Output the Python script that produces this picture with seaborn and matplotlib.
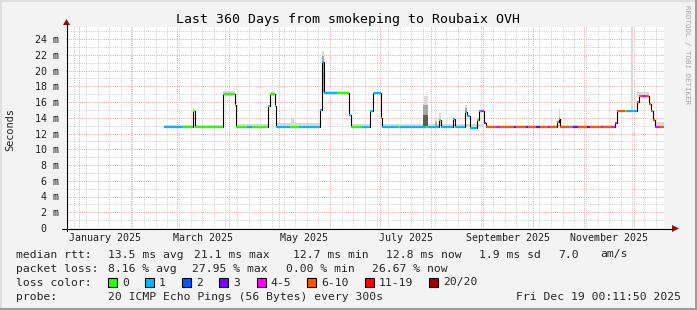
import matplotlib
matplotlib.use("Agg")
import matplotlib.pyplot as plt
import matplotlib.dates as mdates
from matplotlib.patches import Rectangle, Polygon
import numpy as np
import pandas as pd
import seaborn as sns

# ------------------------------------------------------------------ data
title = "Last 360 Days from smokeping to Roubaix OVH"
graph_end = "2025-12-19 00:11:50"
graph_days = 360

# median rtt steps (ms) and loss class per step
seg_edges = [
    "2025-02-21 00:00", "2025-03-04 12:00", "2025-03-10 06:00", "2025-03-11 09:00",
    "2025-03-28 12:00", "2025-04-04 22:00", "2025-04-05 12:00", "2025-04-12 00:00",
    "2025-04-15 00:00", "2025-04-24 12:00", "2025-04-25 22:00", "2025-04-28 22:00",
    "2025-04-29 10:00", "2025-05-08 00:00", "2025-05-13 00:00", "2025-05-26 00:00",
    "2025-05-27 04:00", "2025-05-28 10:00", "2025-06-05 00:00", "2025-06-12 14:00",
    "2025-06-13 12:00", "2025-06-20 00:00", "2025-06-25 02:00", "2025-06-26 14:00",
    "2025-07-01 10:00", "2025-07-02 12:00", "2025-07-12 00:00", "2025-07-13 00:00",
    "2025-07-29 00:00", "2025-07-30 00:00", "2025-08-05 14:00", "2025-08-06 19:00",
    "2025-08-13 19:00", "2025-08-15 05:00", "2025-08-21 07:00", "2025-08-22 12:00",
    "2025-08-24 07:00", "2025-08-28 12:00", "2025-08-29 12:00", "2025-08-31 00:00",
    "2025-09-01 17:00", "2025-09-02 22:00", "2025-09-09 00:00", "2025-09-11 12:00",
    "2025-09-20 00:00", "2025-09-21 00:00", "2025-09-26 18:00", "2025-09-28 00:00",
    "2025-10-03 00:00", "2025-10-05 12:00", "2025-10-10 00:00", "2025-10-11 12:00",
    "2025-10-15 10:00", "2025-10-16 20:00", "2025-10-17 10:00", "2025-10-23 00:00",
    "2025-10-24 00:00", "2025-10-25 00:00", "2025-10-28 00:00", "2025-11-02 10:00",
    "2025-11-04 12:00", "2025-11-10 22:00", "2025-11-12 12:00", "2025-11-18 00:00",
    "2025-11-19 12:00", "2025-11-20 22:00", "2025-11-25 12:00", "2025-11-26 12:00",
    "2025-11-27 12:00", "2025-12-02 22:00", "2025-12-04 02:00", "2025-12-06 00:00",
    "2025-12-08 00:00", "2025-12-10 02:00", "2025-12-11 00:00", "2025-12-12 10:00",
    "2025-12-13 10:00", "2025-12-16 12:00", "2025-12-19 00:00",
]
seg_median = [
    12.85, 12.85, 14.8, 12.85, 17.0, 15.6, 12.85, 12.85, 12.85, 15.5, 17.0, 15.5,
    12.85, 12.85, 12.85, 15.0, 21.1, 17.1, 17.1, 14.35, 12.85, 12.85, 14.9, 17.1,
    14.0, 12.85, 12.85, 12.85, 12.85, 12.85, 13.7, 12.85, 13.8, 12.85, 14.77, 14.2,
    12.65, 13.7, 14.86, 14.86, 13.3, 12.85, 12.85, 12.85, 12.85, 12.85, 12.85, 12.85,
    12.85, 12.85, 12.85, 12.85, 13.4, 13.8, 12.85, 12.85, 12.85, 12.85, 12.85, 12.85,
    12.85, 12.85, 12.85, 12.85, 13.3, 14.8, 14.8, 14.8, 14.8, 16.0, 16.76, 16.76,
    16.76, 15.7, 14.8, 13.7, 12.85, 12.85,
]
seg_loss = [
    1, 0, 0, 0, 0, 1, 0, 1, 0, 0, 0, 1,
    1, 0, 1, 1, 1, 1, 0, 1, 0, 1, 1, 1,
    1, 1, 0, 1, 0, 1, 0, 1, 1, 1, 1, 1,
    1, 0, 1, 4, 3, 5, 4, 5, 3, 5, 3, 5,
    3, 5, 4, 5, 5, 5, 5, 1, 5, 3, 5, 3,
    5, 4, 5, 4, 4, 5, 0, 5, 1, 5, 5, 4,
    5, 5, 5, 5, 4, 5,
]

# smoke (spread of the 20 pings): light, mid and dark layers
smoke_light_start = ["2025-02-21 00:00", "2025-03-28 12:00", "2025-04-05 12:00", "2025-04-25 22:00",
                     "2025-04-29 10:00", "2025-05-08 12:00", "2025-05-27 04:00", "2025-05-28 10:00",
                     "2025-06-13 12:00", "2025-06-26 14:00", "2025-07-02 12:00", "2025-07-27 12:00",
                     "2025-08-03 06:00", "2025-08-05 14:00", "2025-08-21 07:00", "2025-09-02 22:00",
                     "2025-10-17 00:00", "2025-11-20 22:00", "2025-11-29 02:00", "2025-12-03 00:00",
                     "2025-12-13 10:00"]
smoke_light_end = ["2025-03-28 12:00", "2025-04-04 22:00", "2025-04-24 12:00", "2025-04-28 22:00",
                   "2025-05-26 00:00", "2025-05-10 00:00", "2025-05-28 10:00", "2025-06-12 14:00",
                   "2025-06-25 02:00", "2025-07-01 10:00", "2025-09-01 17:00", "2025-07-30 00:00",
                   "2025-08-04 10:00", "2025-08-06 19:00", "2025-08-22 12:00", "2025-11-19 12:00",
                   "2025-10-17 14:00", "2025-12-02 22:00", "2025-11-30 06:00", "2025-12-10 02:00",
                   "2025-12-19 00:00"]
smoke_light_lo = [12.8, 16.9, 12.8, 16.9, 12.8, 12.85, 17.1, 17.0, 12.8, 17.0, 12.8, 12.85,
                  12.85, 12.85, 14.7, 12.8, 12.85, 14.7, 14.8, 16.7, 12.8]
smoke_light_hi = [13.1, 17.35, 13.15, 17.3, 13.35, 13.8, 22.5, 17.45, 13.15, 17.3, 13.15, 16.8,
                  13.7, 14.6, 15.6, 13.05, 15.1, 15.0, 26.0, 17.3, 13.4]

smoke_mid_start = ["2025-05-27 04:00", "2025-07-27 00:00", "2025-08-21 07:00", "2025-08-03 06:00"]
smoke_mid_end = ["2025-05-28 10:00", "2025-07-30 00:00", "2025-08-22 12:00", "2025-08-04 10:00"]
smoke_mid_lo = [17.1, 12.85, 14.7, 12.85]
smoke_mid_hi = [21.9, 15.6, 15.2, 13.5]

smoke_dark_start = ["2025-07-26 18:00"]
smoke_dark_end = ["2025-07-30 00:00"]
smoke_dark_lo = [12.85]
smoke_dark_hi = [14.3]

y_ticks = [0, 2, 4, 6, 8, 10, 12, 14, 16, 18, 20, 22, 24]
y_tick_labels = ["0  ", "2 m", "4 m", "6 m", "8 m", "10 m", "12 m", "14 m",
                 "16 m", "18 m", "20 m", "22 m", "24 m"]
month_label_text = ["January 2025", "March 2025", "May 2025", "July 2025",
                    "September 2025", "November 2025"]
month_label_month = ["2025-01", "2025-03", "2025-05", "2025-07", "2025-09", "2025-11"]

loss_labels = ["0", "1", "2", "3", "4-5", "6-10", "11-19", "20/20"]
loss_colors = ["#26ff00", "#00b8ff", "#0059ff", "#7e00ff", "#ff00ff",
               "#ff5500", "#ff0000", "#a10000"]

rtt_items = ["13.5 ms avg", "21.1 ms max", "12.7 ms min", "12.8 ms now",
             "1.9 ms sd", "7.0", "am/s"]
loss_items = ["8.16 % avg", "27.95 % max", "0.00 % min", "26.67 % now"]
probe_text = "20 ICMP Echo Pings (56 Bytes) every 300s"
stamp_text = "Fri Dec 19 00:11:50 2025"

# ------------------------------------------------------------------ style
sns.set_style("white")
MONO = ["DejaVu Sans Mono"]
plt.rcParams["font.family"] = MONO

W, H = 697, 310
BG = "#f3f3f3"
MGRID = "#f3a2a2"
GRID = "#d0d0d0"
AXC = "#000000"
ARROW = "#8b1010"

PL, PR, PB, PT = 66, 664, 228, 27
PX_PER_MS = 7.875


def ts(s):
    return pd.Timestamp(s)


fig = plt.figure(figsize=(W / 100, H / 100), dpi=100, facecolor=BG)
ax = fig.add_axes([PL / W, 1 - PB / H, (PR - PL) / W, (PB - PT) / H])
ax.set_facecolor("white")

t_end = ts(graph_end)
t_start = t_end - pd.Timedelta(days=graph_days)

edges = [ts(s) for s in seg_edges]


def smoke(starts, ends, los, his, color, z):
    for s, e, lo, hi in zip(starts, ends, los, his):
        ax.fill_between(mdates.date2num([ts(s), ts(e)]), [lo, lo], [hi, hi],
                        color=color, lw=0, zorder=z)


smoke(smoke_light_start, smoke_light_end, smoke_light_lo, smoke_light_hi, "#d9d9d9", 2.0)
smoke(smoke_mid_start, smoke_mid_end, smoke_mid_lo, smoke_mid_hi, "#a6a6a6", 2.1)
smoke(smoke_dark_start, smoke_dark_end, smoke_dark_lo, smoke_dark_hi, "#5c5c5c", 2.2)

# black median step line
med_df = pd.DataFrame({"t": mdates.date2num(edges), "ms": seg_median + [seg_median[-1]]})
sns.lineplot(data=med_df, x="t", y="ms", ax=ax, color="black", lw=0.8,
             drawstyle="steps-post", estimator=None, sort=False, zorder=3)

# loss-coloured median segments
ax.hlines(seg_median, mdates.date2num(edges[:-1]), mdates.date2num(edges[1:]),
          colors=[loss_colors[k] for k in seg_loss], lw=1.5, zorder=4,
          capstyle="butt")

ax.set_xlim(mdates.date2num(t_start), mdates.date2num(t_end))
ax.set_ylim(0, (PB - PT) / PX_PER_MS)

# grid
ax.set_yticks(y_ticks)
ax.set_yticks([v + 1 for v in y_ticks], minor=True)
ax.set_yticklabels(y_tick_labels)
month_starts = pd.date_range("2025-01-01", "2025-12-01", freq="MS")
weeks = pd.date_range("2024-12-29", "2025-12-14", freq="7D")
ax.set_xticks(mdates.date2num(month_starts))
ax.set_xticks(mdates.date2num(weeks), minor=True)
ax.set_xticklabels([])
dot = (0, (1, 1.2))
ax.grid(which="minor", color=GRID, lw=0.72, ls=dot, zorder=0)
ax.grid(which="major", color=MGRID, lw=0.72, ls=dot, zorder=0.5)
ax.set_axisbelow(True)
for sp in ax.spines.values():
    sp.set_visible(False)
ax.tick_params(axis="y", which="major", direction="out", length=2.5, width=0.7,
               color="#404040", labelsize=7.2, pad=2.5, labelcolor="#202020")
ax.tick_params(axis="y", which="minor", direction="out", length=1.5, width=0.7,
               color="#909090")
ax.tick_params(axis="x", which="major", direction="inout", length=4, width=0.7,
               color="#e07070")
ax.tick_params(axis="x", which="minor", direction="in", length=2, width=0.7,
               color="#909090")
ax.set_xlabel("")
ax.set_ylabel("")

for txt, m in zip(month_label_text, month_label_month):
    a = ts(m + "-01")
    b = a + pd.offsets.MonthBegin(1)
    mid = a + (b - a) / 2
    ax.text(mdates.date2num(mid), -10 / (PB - PT), txt, transform=ax.get_xaxis_transform(),
            ha="center", va="center", fontsize=7.2, color="#202020")

# ------------------------------------------------------------------ overlay (pixel coords)
ov = fig.add_axes([0, 0, 1, 1], zorder=10)
ov.set_xlim(0, W)
ov.set_ylim(H, 0)
ov.axis("off")
ov.patch.set_alpha(0)

# frame
ov.plot([0.5, W - 0.5], [0.5, 0.5], color="#dcdcdc", lw=1.2)
ov.plot([0.5, 0.5], [0.5, H - 0.5], color="#dcdcdc", lw=1.2)
ov.plot([W - 1, W - 1], [0, H], color="#9c9c9c", lw=1.5)
ov.plot([0, W], [H - 1, H - 1], color="#9c9c9c", lw=1.5)

# axes with arrows
ov.plot([PL + 0.5, PL + 0.5], [PB + 3, PT - 3], color=AXC, lw=0.8)
ov.add_patch(Polygon([[PL - 3, PT - 2], [PL + 4, PT - 2], [PL + 0.5, PT - 8]],
                     closed=True, color=ARROW, lw=0))
ov.plot([PL - 4, PR + 8], [PB + 0.5, PB + 0.5], color=AXC, lw=0.8)
ov.add_patch(Polygon([[PR + 8, PB - 3], [PR + 8, PB + 4], [PR + 15, PB + 0.5]],
                     closed=True, color=ARROW, lw=0))

# title / labels
ov.text(348, 19.5, title, ha="center", va="center", fontsize=9.5, color="black")
ov.text(10, (PB + PT) / 2 + 2, "Seconds", rotation=90, ha="center", va="center",
        fontsize=7.4, color="#202020")
ov.text(687, 5, "RRDTOOL / TOBI OETIKER", rotation=270, ha="center", va="top",
        fontsize=5.4, color="#a8a8a8")

# legend
FS = 8.2
rows = [254.5, 268.5, 282.5, 296.5]
ov.text(15.6, rows[0], "median rtt:", ha="left", va="center", fontsize=FS)
for x, s in zip([107.6, 194, 293, 386, 479, 558, 600], rtt_items):
    ov.text(x, rows[0], s, ha="left", va="center", fontsize=FS)
ov.text(15.6, rows[1], "packet loss:", ha="left", va="center", fontsize=FS)
for x, s in zip([107.6, 192, 286, 372], loss_items):
    ov.text(x, rows[1], s, ha="left", va="center", fontsize=FS)
ov.text(15.6, rows[2], "loss color:", ha="left", va="center", fontsize=FS)
box_x = [108, 145, 182, 219, 256.5, 307, 365, 429]
for bx, lab, col in zip(box_x, loss_labels, loss_colors):
    ov.add_patch(Rectangle((bx, rows[2] - 4.5), 9, 9, facecolor=col,
                           edgecolor="black", lw=0.8))
    ov.text(bx + 14, rows[2], lab, ha="left", va="center", fontsize=FS)
ov.text(15.6, rows[3], "probe:", ha="left", va="center", fontsize=FS)
ov.text(107.6, rows[3], probe_text, ha="left", va="center", fontsize=FS)
ov.text(681, rows[3], stamp_text, ha="right", va="center", fontsize=FS)

fig.savefig("out.png", dpi=100, facecolor=BG)
